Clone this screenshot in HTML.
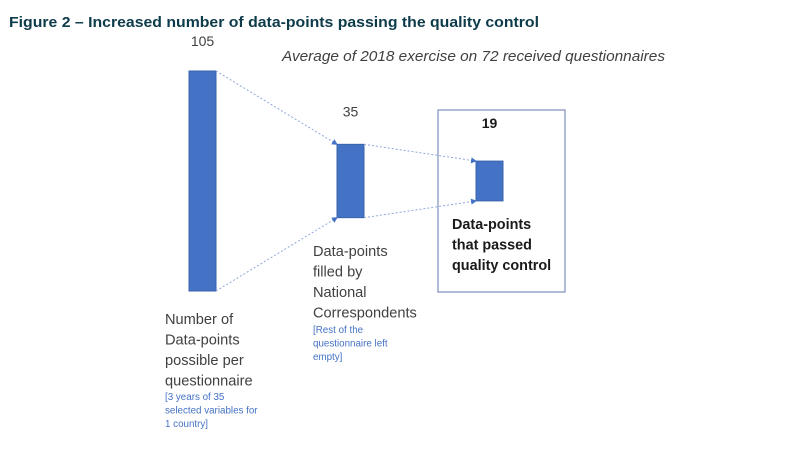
<!DOCTYPE html>
<html><head><meta charset="utf-8">
<style>
body{margin:0;background:#fff;width:810px;height:454px;overflow:hidden;font-family:"Liberation Sans",sans-serif;}
svg{display:block}
</style></head><body>
<svg id="c" width="810" height="454">
<defs><marker id="ar" markerWidth="6" markerHeight="6" refX="5" refY="3" orient="auto"><path d="M0,0L6,3L0,6z" fill="#4472c4"/></marker></defs>
<text x="9" y="27" font-size="15" font-weight="bold" fill="#0e3b4a" textLength="530" lengthAdjust="spacingAndGlyphs">Figure 2 – Increased number of data-points passing the quality control</text>
<text x="282" y="61" font-size="15" font-style="italic" fill="#404040" textLength="383" lengthAdjust="spacingAndGlyphs">Average of 2018 exercise on 72 received questionnaires</text>
<rect x="438" y="110" width="127" height="182" fill="none" stroke="#7f8fbf" stroke-width="1.2"/>
<g id="marks"></g>
<g font-size="14.6" fill="#404040">
<text x="165" y="324"><tspan x="165">Number of</tspan><tspan x="165" dy="20.5">Data-points</tspan><tspan x="165" dy="20.5">possible per</tspan><tspan x="165" dy="20.5">questionnaire</tspan></text>
<text x="313" y="256"><tspan x="313">Data-points</tspan><tspan x="313" dy="20.5">filled by</tspan><tspan x="313" dy="20.5">National</tspan><tspan x="313" dy="20.5">Correspondents</tspan></text>
</g>
<g font-size="9.8" fill="#4472c4">
<text><tspan x="165" y="400">[3 years of 35</tspan><tspan x="165" dy="13.5">selected variables for</tspan><tspan x="165" dy="13.5">1 country]</tspan></text>
<text><tspan x="313" y="333">[Rest of the</tspan><tspan x="313" dy="13.5">questionnaire left</tspan><tspan x="313" dy="13.5">empty]</tspan></text>
</g>
<text font-size="14.4" font-weight="bold" fill="#1a1a1a"><tspan x="452" y="229">Data-points</tspan><tspan x="452" dy="20.5">that passed</tspan><tspan x="452" dy="20.5">quality control</tspan></text>
</svg>
<script>
const categories=["possible","filled","passed"];
const values=[105,35,19];
const valueLabels=["105","35","19"];
const ns="http://www.w3.org/2000/svg";
const g=document.getElementById("marks");
const xs=[189,337,476], bw=27, cy=181, maxH=220, maxV=105;
function h(v){return v/maxV*maxH;}
function mk(t,a){const e=document.createElementNS(ns,t);for(const k in a)e.setAttribute(k,a[k]);g.appendChild(e);return e;}
const rects=[];
values.forEach((v,i)=>{
 const hh=h(v),y=cy-hh/2;
 rects.push({x:xs[i],y:y,h:hh});
 const r=mk("rect",{x:xs[i],y:y,width:bw,height:hh,fill:"#4472c4",stroke:"#3a63ad","stroke-width":1});
 
 
 const dy = i===0?25:(i===1?28:33);
 const t=mk("text",{x:xs[i]+bw/2,y:y-dy,"text-anchor":"middle","font-size":"14",fill:i===2?"#1a1a1a":"#404040","font-weight":i===2?"bold":"normal"});
 t.textContent=valueLabels[i];
 
 
});
for(let i=0;i<rects.length-1;i++){
 const a=rects[i],b=rects[i+1];
 [[a.y,b.y],[a.y+a.h,b.y+b.h]].forEach((p,j)=>{
  const l=mk("line",{x1:a.x+bw,y1:p[0],x2:b.x,y2:p[1],stroke:"#8fa8dc","stroke-width":1,"stroke-dasharray":"2,2","marker-end":"url(#ar)"});
  
  
 });
}
</script>
</body></html>
